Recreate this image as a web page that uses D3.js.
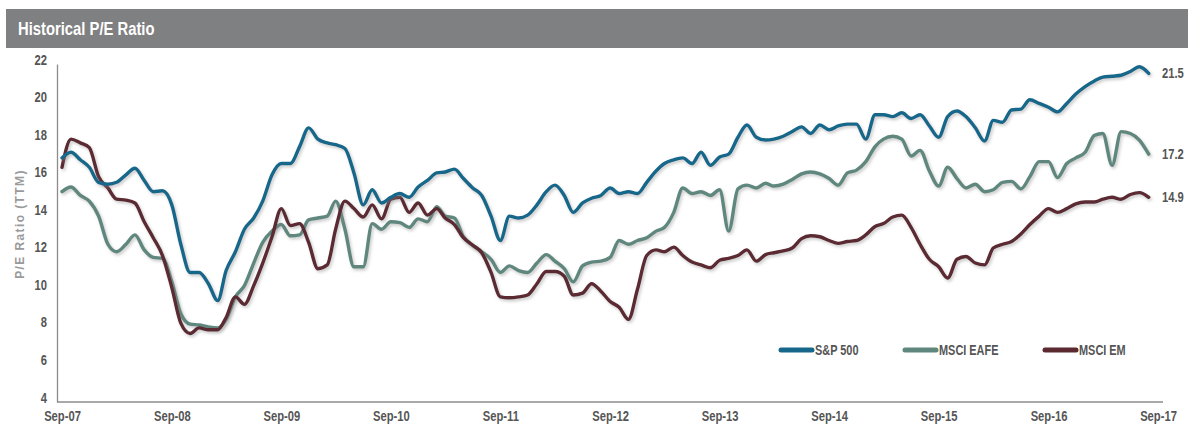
<!DOCTYPE html>
<html>
<head>
<meta charset="utf-8">
<script src="https://cdn.jsdelivr.net/npm/d3@7"></script>
<style>
  html, body { margin: 0; padding: 0; background: #fff; }
  svg { display: block; }
  .narrow { font-family: "Liberation Sans", Arial, sans-serif; font-weight: bold; }
</style>
</head>
<body>
<svg id="chart" width="1188" height="426"></svg>
<script>
// Monthly trailing P/E ratios, Sep-2007 through Aug-2017
const startMonth = new Date(2007, 8, 1);

const sp500 = [
  17.0, 17.3, 16.9, 16.5, 15.7, 15.6, 15.7, 16.1, 16.45, 15.8, 15.2, 15.25,
  14.5, 12.4, 10.9, 10.9, 10.3, 9.4, 11.0, 12.0, 13.2, 13.8, 14.7, 16.1,
  16.7, 16.7, 17.6, 18.6, 18.0, 17.8, 17.7, 17.5, 16.2, 14.5, 15.3, 14.6,
  14.9, 15.1, 14.9, 15.45, 15.8, 16.2, 16.25, 16.4, 15.9, 15.4, 15.0, 13.9,
  12.6, 13.9, 13.8, 13.95, 14.5, 15.2, 15.55, 15.0, 14.1, 14.6, 14.85, 15.0,
  15.4, 15.1, 15.2, 15.1, 15.7, 16.3, 16.7, 16.9, 17.0, 16.7, 17.3, 16.6,
  17.05, 17.2, 18.1, 18.75, 18.1, 17.95, 18.0, 18.15, 18.4, 18.65, 18.3, 18.75,
  18.5, 18.7, 18.8, 18.8, 18.0, 19.3, 19.3, 19.2, 19.4, 19.1, 19.3, 18.7,
  18.1, 19.2, 19.5, 19.2, 18.6, 17.9, 19.0, 18.9, 19.55, 19.6, 20.1, 19.9,
  19.7, 19.45, 19.9, 20.4, 20.8, 21.1, 21.3, 21.35, 21.4, 21.6, 21.85, 21.5
];

const msciEafe = [
  15.2, 15.45, 15.0, 14.7, 13.9, 12.4, 12.0, 12.4, 12.9, 12.1, 11.7, 11.65,
  10.4, 8.7, 8.15, 8.1, 8.0, 7.95, 8.4, 9.6, 10.2, 11.4, 12.5, 13.1,
  13.45, 12.85, 12.9, 13.7, 13.8, 13.9, 14.7, 13.2, 11.2, 11.2, 13.5, 13.2,
  13.6, 13.55, 13.3, 13.75, 13.6, 14.4, 13.9, 13.8, 12.8, 12.35, 12.0, 11.6,
  10.9, 11.25, 11.0, 10.9, 11.4, 11.85, 11.5, 11.1, 10.4, 11.25, 11.45, 11.5,
  11.7, 12.6, 12.4, 12.6, 12.75, 13.1, 13.3, 14.1, 15.4, 15.1, 15.2, 15.0,
  15.3, 13.1, 15.35, 15.55, 15.4, 15.65, 15.5, 15.6, 15.85, 16.15, 16.25, 16.15,
  15.9, 15.55, 16.2, 16.35, 16.8, 17.6, 18.0, 18.15, 18.0, 17.1, 17.4, 16.3,
  15.5, 16.5, 15.9, 15.4, 15.6, 15.2, 15.3, 15.7, 15.75, 15.35, 16.0, 16.8,
  16.8, 15.95, 16.7, 17.0, 17.3, 18.2, 18.3, 16.6, 18.4, 18.3, 17.95, 17.2
];

const msciEm = [
  16.5, 18.0, 17.8, 17.55, 16.0, 15.4, 14.8, 14.75, 14.6, 13.6, 12.75, 11.8,
  10.1, 8.2, 7.65, 7.95, 7.85, 7.85, 8.5, 9.6, 9.2, 10.2, 11.4, 12.8,
  14.3, 13.4, 13.5, 12.5, 11.1, 11.3, 13.2, 14.7, 14.3, 13.85, 14.5, 13.75,
  14.8, 14.9, 14.1, 14.6, 13.95, 14.3, 13.8, 13.45, 12.75, 12.35, 11.95, 10.9,
  9.6, 9.55, 9.6, 9.7, 10.3, 10.95, 10.95, 10.7, 9.7, 9.8, 10.3, 9.9,
  9.35, 9.05, 8.4, 10.0, 11.8, 12.1, 12.0, 12.25, 11.8, 11.45, 11.3, 11.15,
  11.55, 11.65, 11.8, 12.1, 11.5, 11.85, 11.95, 12.05, 12.2, 12.7, 12.85, 12.8,
  12.6, 12.45, 12.55, 12.6, 12.9, 13.35, 13.5, 13.85, 13.95, 13.3, 12.4, 11.6,
  11.2, 10.6, 11.6, 11.75, 11.4, 11.3, 12.2, 12.4, 12.55, 12.95, 13.45, 13.9,
  14.3, 14.1, 14.3, 14.55, 14.65, 14.65, 14.8, 14.9, 14.8, 15.05, 15.15, 14.9
];

const seriesNames = ["S&P 500", "MSCI EAFE", "MSCI EM"];
const seriesColors = ["#17678a", "#5f877e", "#5b2930"];
const yTicks = [4, 6, 8, 10, 12, 14, 16, 18, 20, 22];
const endLabels = ["21.5", "17.2", "14.9"];

const svg = d3.select("#chart");

// Squeeze bold sans text horizontally to get a narrow, condensed face
function condense(sel, factor = 0.8) {
  sel.each(function () {
    const w = this.getComputedTextLength();
    d3.select(this).attr("textLength", w * factor).attr("lengthAdjust", "spacingAndGlyphs");
  });
}

// Header bar
svg.append("rect").attr("x", 6).attr("y", 9).attr("width", 1182).attr("height", 39).attr("fill", "#7f8081");
svg.append("text").attr("class", "narrow")
  .attr("x", 18).attr("y", 35)
  .attr("fill", "#ffffff").attr("font-size", 18.5)
  .text("Historical P/E Ratio")
  .call(condense, 0.8);

// Scales
const x = d3.scaleTime()
  .domain([startMonth, new Date(2017, 8, 1)])
  .range([62, 1158]);
const y = d3.scaleLinear().domain([4, 22]).range([402, 64]);

// Soft drop shadow beneath the lines
const defs = svg.append("defs");
const f = defs.append("filter").attr("id", "shadow")
  .attr("x", "-5%").attr("y", "-20%").attr("width", "110%").attr("height", "140%");
f.append("feDropShadow").attr("dx", 1.5).attr("dy", 2).attr("stdDeviation", 1.5)
  .attr("flood-color", "#8a8a8a").attr("flood-opacity", 0.45);

// Y axis
const yAxis = d3.axisLeft(y).tickValues(yTicks).tickSize(0).tickPadding(10);
const gy = svg.append("g").attr("transform", "translate(57,0)").call(yAxis);
gy.attr("font-family", null);
gy.select(".domain").attr("stroke", "#8c8c8c").attr("stroke-width", 1.3);
gy.selectAll("text").attr("class", "narrow").attr("fill", "#555").attr("font-size", 14)
  .attr("dy", "0.0em").call(condense, 0.8);

// X axis
const xTicks = d3.range(0, 11).map(k => d3.timeMonth.offset(startMonth, 12 * k));
const xAxis = d3.axisBottom(x).tickValues(xTicks).tickFormat(d3.timeFormat("%b-%y")).tickSize(0).tickPadding(9);
const gx = svg.append("g").attr("transform", "translate(0,402)").call(xAxis);
gx.attr("font-family", null);
gx.select(".domain").attr("d", "M57,0H1163").attr("stroke", "#8c8c8c").attr("stroke-width", 1.3);
gx.selectAll("text").attr("class", "narrow").attr("fill", "#555").attr("font-size", 14)
  .call(condense, 0.8);

// Y axis title
svg.append("text").attr("class", "narrow")
  .attr("transform", "translate(24,224) rotate(-90)")
  .attr("text-anchor", "middle")
  .attr("font-size", 12).attr("fill", "#9a9a9a")
  .attr("letter-spacing", 1.4)
  .text("P/E Ratio (TTM)");

// Lines
const allSeries = [sp500, msciEafe, msciEm];
const line = d3.line()
  .x((d, i) => x(d3.timeMonth.offset(startMonth, i)))
  .y(d => y(d))
  .curve(d3.curveMonotoneX);

const drawOrder = [1, 2, 0];
drawOrder.forEach(k => {
  svg.append("path")
    .datum(allSeries[k])
    .attr("d", line)
    .attr("fill", "none")
    .attr("stroke", seriesColors[k])
    .attr("stroke-width", 3.4)
    .attr("stroke-linejoin", "round")
    .attr("stroke-linecap", "round")
    .attr("filter", "url(#shadow)");
});

// End-of-series value labels (condensed with a horizontal scale)
allSeries.forEach((s, k) => {
  svg.append("text").attr("class", "narrow")
    .attr("transform", `translate(1162,${y(s[s.length - 1]) + 5}) scale(0.8,1)`)
    .attr("fill", "#555").attr("font-size", 14)
    .text(endLabels[k]);
});

// Legend
const legendX = [781, 905, 1045];
const legend = svg.append("g");
seriesNames.forEach((name, k) => {
  legend.append("line")
    .attr("x1", legendX[k]).attr("x2", legendX[k] + 31)
    .attr("y1", 350).attr("y2", 350)
    .attr("stroke", seriesColors[k]).attr("stroke-width", 5).attr("stroke-linecap", "round");
  legend.append("text").attr("class", "narrow")
    .attr("x", legendX[k] + 34).attr("y", 355)
    .attr("fill", "#555").attr("font-size", 14)
    .text(name)
    .call(condense, 0.78);
});
</script>
</body>
</html>
